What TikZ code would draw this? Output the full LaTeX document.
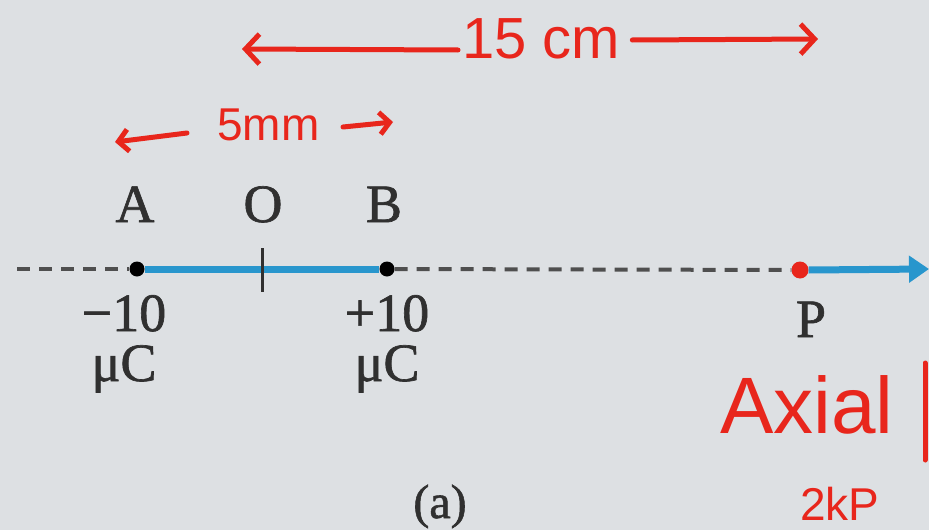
\documentclass[tikz,border=0pt]{standalone}
\usepackage{fontspec}
\newfontfamily\handfont{Liberation Sans}
\newfontfamily\labfont[FakeBold=1.2]{Liberation Serif}
\usetikzlibrary{arrows.meta}
\definecolor{bg}{HTML}{DDE0E3}
\definecolor{axisblue}{HTML}{2896CD}
\definecolor{pen}{HTML}{E8261C}
\definecolor{ink}{HTML}{303030}
\tikzset{
  charge/.style={circle,fill=black,inner sep=0pt,minimum size=15pt},
  lbl/.style={anchor=base,inner sep=0pt,text=ink,font=\labfont\fontsize{54}{50}\selectfont},
  dashaxis/.style={draw=ink!85,line width=4pt,dash pattern=on 13pt off 9pt},
  bluaxis/.style={draw=axisblue,line width=7pt},
  redpen/.style={draw=pen,line width=5pt,line cap=round,line join=round},
  hand/.style={text=pen,inner sep=0pt,anchor=base west},
  barb/.style={-{Straight Barb[length=14pt,width=30pt,line width=5pt]}}
}
\begin{document}
\begin{tikzpicture}[x=1pt,y=-1pt]
\fill[bg] (0,0) rectangle (929,530);
\clip (0,0) rectangle (929,530);
% axis points
\coordinate (L) at (17,269);
\node[charge] (A) at (137,269) {};
\node[charge] (B) at (387,269) {};
\node[charge,fill=pen,minimum size=17pt] (P) at (800,270) {};
\coordinate (E) at (929,269);
\coordinate (Ot) at (262,248);
\coordinate (Ob) at (262,292);
% lines
\draw[dashaxis] (L) -- (A.west);
\draw[bluaxis] (A.east) -- (B.west);
\draw[dashaxis] (B.east) -- (P.west);
\draw[bluaxis,-{Triangle[length=20pt,width=26pt]}] (P.east) -- (E);
\draw[ink,line width=3pt] (Ot) -- (Ob);
% labels
\node[lbl] (lA) at (135,222) {A};
\node[lbl] (lO) at (263,222) {O};
\node[lbl] (lB) at (384,222) {B};
\node[lbl,align=center] (qA) at (124,381) {−10\\μC};
\node[lbl,align=center] (qB) at (387,381) {+10\\μC};
\node[lbl] (lP) at (811,337) {P};
\node[lbl,font=\labfont\fontsize{48}{52}\selectfont] (cap) at (440,518) {(a)};
% red handwriting: 15 cm
\node[hand,font=\handfont\fontsize{58}{60}\selectfont] (t15) at (462,58) {15 cm};
\coordinate (f1) at (242,49);
\coordinate (f2) at (818,39);
\draw[redpen,barb] (t15.west |- 0,50) ++(-4pt,0) -- (f1);
\draw[redpen,barb] (t15.east |- 0,40) ++(12pt,0) -- (f2);
% 5 mm
\node[hand,font=\handfont\fontsize{46}{50}\selectfont] (t5) at (217,140) {5mm};
\coordinate (g1) at (115,142);
\coordinate (g2) at (393,122);
\coordinate (g1s) at (187,133);
\coordinate (g2s) at (343,127);
\draw[redpen,-{Straight Barb[length=10pt,width=22pt,line width=5pt]}] (g1s) -- (g1);
\draw[redpen,-{Straight Barb[length=10pt,width=22pt,line width=5pt]}] (g2s) -- (g2);
% Axial
\node[hand,font=\handfont\fontsize{80}{84}\selectfont] (ax) at (720,433) {Axial};
\coordinate (v1) at (925,363);
\coordinate (v2) at (925,460);
\draw[redpen] (v1) -- (v2);
\node[hand,font=\handfont\fontsize{46}{50}\selectfont] (kp) at (800,520) {2kP};
\end{tikzpicture}
\end{document}
